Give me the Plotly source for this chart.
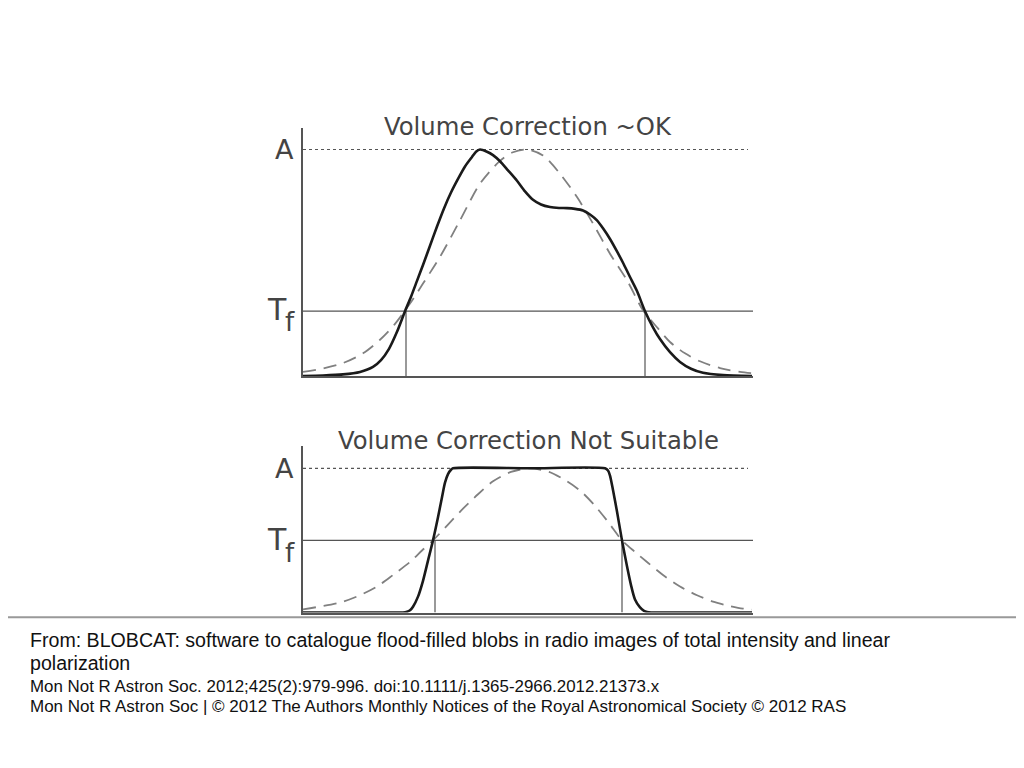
import plotly.graph_objects as go

# ---------------- data (x in panel units, y relative to A = 1) ----------------
top_solid_x = [0, 20, 40, 57, 70, 78, 86, 94, 102, 108, 114, 120, 127, 134, 141, 148, 155, 162, 169, 173, 177, 184, 190, 197, 205, 214, 222, 230, 238, 247, 256, 264, 272, 280, 287, 294, 300, 307, 314, 320, 327, 334, 342, 350, 357, 367, 377, 388, 400, 420, 449]
top_solid_y = [0.0, 0.002, 0.007, 0.018, 0.04, 0.07, 0.12, 0.195, 0.286, 0.35, 0.42, 0.49, 0.575, 0.66, 0.74, 0.81, 0.87, 0.925, 0.967, 0.99, 1.0, 0.99, 0.975, 0.948, 0.908, 0.862, 0.815, 0.778, 0.757, 0.746, 0.742, 0.741, 0.738, 0.731, 0.713, 0.687, 0.652, 0.605, 0.55, 0.50, 0.437, 0.375, 0.286, 0.215, 0.163, 0.105, 0.062, 0.032, 0.014, 0.004, 0.0]
top_dash_x = [0, 20, 40, 60, 77, 92, 107, 120, 137, 157, 177, 197, 210, 224, 240, 257, 274, 290, 307, 324, 340, 355, 367, 382, 397, 417, 437, 449]
top_dash_y = [0.018, 0.033, 0.057, 0.10, 0.16, 0.23, 0.32, 0.408, 0.526, 0.687, 0.849, 0.95, 0.988, 1.0, 0.974, 0.893, 0.79, 0.673, 0.54, 0.423, 0.29, 0.21, 0.15, 0.10, 0.065, 0.035, 0.018, 0.012]
top_threshold = 0.286
top_crossings = [103, 342]

bot_solid_x = [0, 60, 100, 104, 107, 110, 115, 120, 125, 130, 135, 139, 142, 145, 148, 150, 227, 302, 305, 307, 310, 314, 319, 324, 328, 332, 337, 341, 344, 348, 400, 449]
bot_solid_y = [0.0, 0.0, 0.0, 0.005, 0.015, 0.04, 0.11, 0.22, 0.36, 0.50, 0.66, 0.80, 0.90, 0.96, 0.99, 1.0, 1.0, 1.0, 0.985, 0.95, 0.85, 0.70, 0.50, 0.32, 0.19, 0.09, 0.035, 0.012, 0.004, 0.0, 0.0, 0.0]
bot_dash_x = [0, 20, 40, 57, 74, 90, 107, 119, 130, 145, 160, 175, 190, 208, 227, 246, 264, 278, 292, 306, 319, 332, 344, 360, 377, 394, 410, 425, 440, 449]
bot_dash_y = [0.022, 0.045, 0.075, 0.12, 0.18, 0.26, 0.35, 0.43, 0.50, 0.61, 0.72, 0.82, 0.91, 0.975, 1.0, 0.975, 0.91, 0.84, 0.74, 0.62, 0.50, 0.42, 0.35, 0.26, 0.18, 0.12, 0.075, 0.048, 0.027, 0.02]
bot_threshold = 0.50
bot_crossings = [132, 319]

level_A = 1.0
dotted_end = 445
x_span = [0, 450]

top_title = "Volume Correction ~OK"
bot_title = "Volume Correction Not Suitable"
label_A = "A"
label_T = "T"
label_f = "f"

caption_lines = [
    "From: BLOBCAT: software to catalogue flood-filled blobs in radio images of total intensity and linear",
    "polarization",
    "Mon Not R Astron Soc. 2012;425(2):979-996. doi:10.1111/j.1365-2966.2012.21373.x",
    "Mon Not R Astron Soc | © 2012 The Authors Monthly Notices of the Royal Astronomical Society © 2012 RAS",
]

# ---------------- figure ----------------
OFF = 8              # page body margin
FW, H_ = 1008, 752   # figure size so that it fits the 1024x768 window


def px(p):
    return (p - OFF) / FW


def py(p):
    return 1 - (p - OFF) / H_


fig = go.Figure()
AX = "#555555"
CURVE = "#1a1a1a"
DASH = "#808080"
TXT = "#444444"


def add_panel(xa, ya, sx, sy, dx, dy, thr, cross):
    fig.add_trace(go.Scatter(x=x_span, y=[thr, thr], mode="lines",
                             line=dict(color=AX, width=1.2), xaxis=xa, yaxis=ya, hoverinfo="skip"))
    fig.add_trace(go.Scatter(x=[0, dotted_end], y=[level_A, level_A], mode="lines",
                             line=dict(color=AX, width=1.2, dash="dot"), xaxis=xa, yaxis=ya, hoverinfo="skip"))
    for c in cross:
        fig.add_trace(go.Scatter(x=[c, c], y=[0, thr], mode="lines",
                                 line=dict(color=AX, width=1.2), xaxis=xa, yaxis=ya, hoverinfo="skip"))
    fig.add_trace(go.Scatter(x=dx, y=dy, mode="lines",
                             line=dict(color=DASH, width=1.8, dash="13px,8px", shape="spline", smoothing=0.8),
                             xaxis=xa, yaxis=ya, hoverinfo="skip"))
    fig.add_trace(go.Scatter(x=sx, y=sy, mode="lines",
                             line=dict(color=CURVE, width=2.6, shape="spline", smoothing=0.7),
                             xaxis=xa, yaxis=ya, hoverinfo="skip"))


add_panel("x", "y", top_solid_x, top_solid_y, top_dash_x, top_dash_y, top_threshold, top_crossings)
add_panel("x2", "y2", bot_solid_x, bot_solid_y, bot_dash_x, bot_dash_y, bot_threshold, bot_crossings)

xd = [px(303), px(753)]
axis_common = dict(showgrid=False, zeroline=False, showline=True, linecolor=AX, linewidth=1.5,
                   showticklabels=False, ticks="")
top_base, top_A, top_top = 376, 149.5, 128
bot_base, bot_A, bot_top = 612.5, 468.3, 446
fig.update_layout(
    width=FW, height=H_, margin=dict(l=0, r=0, t=0, b=0),
    paper_bgcolor="white", plot_bgcolor="white", showlegend=False,
    xaxis=dict(domain=xd, range=x_span, **axis_common),
    yaxis=dict(domain=[py(top_base), py(top_top)],
               range=[0, (top_base - top_top) / (top_base - top_A)], **axis_common),
    xaxis2=dict(domain=xd, range=x_span, anchor="y2", **axis_common),
    yaxis2=dict(domain=[py(bot_base), py(bot_top)],
                range=[0, (bot_base - bot_top) / (bot_base - bot_A)], anchor="x2", **axis_common),
)


def note(text, x, y, size, family="DejaVu Sans", color=TXT, xanchor="center"):
    fig.add_annotation(text=text, x=px(x), y=py(y), xref="paper", yref="paper", showarrow=False,
                       xanchor=xanchor, yanchor="middle", font=dict(family=family, size=size, color=color))


note(top_title, 528, 126.5, 24.3)
note(bot_title, 528, 440.5, 24.3)

# axis level labels
note(label_A, 284, 149.5, 27)
note(label_T, 276.5, 309, 30)
note(label_f, 289.5, 322, 26)
note(label_A, 284, 469, 27)
note(label_T, 276.5, 539.5, 30)
note(label_f, 289.5, 553, 26)

# separator line
fig.add_shape(type="line", xref="paper", yref="paper", x0=px(0), x1=px(1024), y0=py(617.3), y1=py(617.3),
              line=dict(color="#999999", width=2))

cap_y = [640, 663, 686, 706]
cap_size = [19.6, 19.6, 16.9, 17.0]
for t, yy, s in zip(caption_lines, cap_y, cap_size):
    note(t, 28, yy, s, family="Liberation Sans", color="#111111", xanchor="left")

fig.write_html("out.html")
